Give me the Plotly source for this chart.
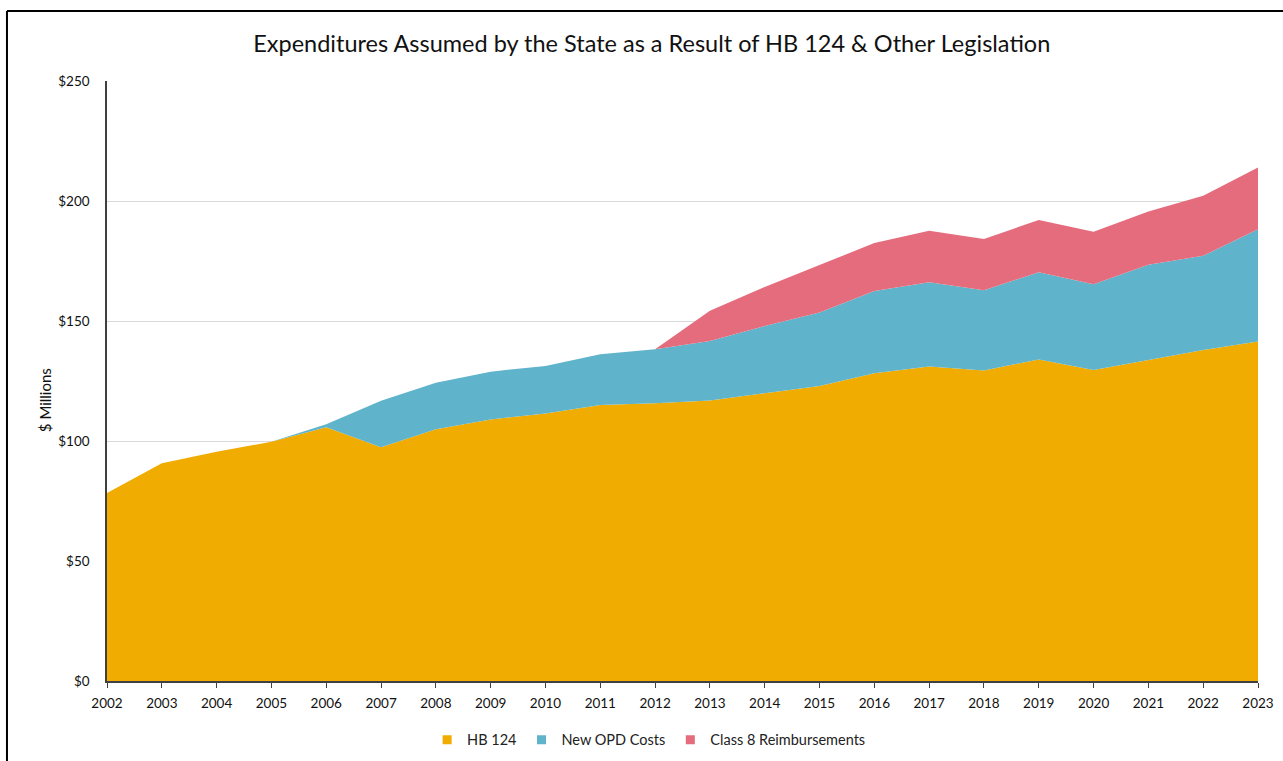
import plotly.graph_objects as go

years = list(range(2002, 2024))
hb124 = [78.3, 90.7, 95.5, 99.7, 105.7, 97.4, 104.9, 109.0, 111.5, 115.0, 115.7,
         116.9, 119.9, 122.9, 128.2, 131.0, 129.4, 134.0, 129.6, 133.8, 137.9, 141.5]
new_opd = [0, 0, 0, 0, 1.3, 19.4, 19.4, 19.9, 19.8, 21.1, 22.5,
           24.8, 28.0, 30.6, 34.3, 35.1, 33.4, 36.3, 35.7, 39.6, 39.3, 46.7]
class8 = [0, 0, 0, 0, 0, 0, 0, 0, 0, 0, 0,
          12.6, 16.3, 19.8, 20.0, 21.5, 21.4, 21.8, 21.9, 22.2, 25.0, 25.8]
y_ticks = [0, 50, 100, 150, 200, 250]
y_labels = ["$0", "$50", "$100", "$150", "$200", "$250"]

series = [("HB 124", hb124, "#F0AC00"),
          ("New OPD Costs", new_opd, "#5FB3CB"),
          ("Class 8 Reimbursements", class8, "#E46C7D")]

fig = go.Figure()
for name, vals, col in series:
    fig.add_trace(go.Scatter(
        x=years, y=vals, name=name, stackgroup="one", mode="none",
        fillcolor=col, line=dict(width=0), hoverinfo="x+y+name", showlegend=False))
# legend entries with small square swatches
for name, vals, col in series:
    fig.add_trace(go.Scatter(
        x=[None], y=[None], name=name, mode="markers",
        marker=dict(symbol="square", size=9, color=col), showlegend=True))

font_family = "Lato, 'Open Sans', sans-serif"
fig.update_layout(
    width=1283, height=761,
    margin=dict(l=107, r=25, t=81, b=80, autoexpand=False),
    paper_bgcolor="white", plot_bgcolor="white",
    font=dict(family=font_family, size=13, color="#222"),
    title=dict(text="Expenditures Assumed by the State as a Result of HB 124 & Other Legislation",
               x=0.508, xanchor="center", y=0.943, yanchor="middle",
               font=dict(size=23.5, color="#111", family=font_family)),
    showlegend=True,
    legend=dict(orientation="h", x=0.471, xanchor="center", y=-0.098, yanchor="middle",
                font=dict(size=14.5, color="#222"), itemwidth=30, traceorder="normal",
                tracegroupgap=0),
)
fig.update_xaxes(
    range=[2002, 2023], tickmode="array", tickvals=years, ticktext=[str(y) for y in years],
    showgrid=False, showline=True, linecolor="#404040", linewidth=1.5,
    ticks="outside", ticklen=5, tickcolor="#404040", tickfont=dict(size=13.5, color="#111"),
    ticklabelstandoff=4, zeroline=False, fixedrange=True)
fig.update_yaxes(
    range=[0, 250], tickmode="array", tickvals=y_ticks, ticktext=y_labels,
    showgrid=True, gridcolor="#D9D9D9", gridwidth=1,
    showline=True, linecolor="#404040", linewidth=1.5, ticks="", ticklabelstandoff=13,
    tickfont=dict(size=13.5, color="#111"), zeroline=False, fixedrange=True)

fig.add_annotation(text="$ Millions", xref="paper", yref="paper",
                   x=-0.0539, y=0.468, xanchor="center", yanchor="middle",
                   textangle=-90, showarrow=False, font=dict(size=15, color="#111"))

# outer frame (top and left edges visible in the reference)
fig.add_shape(type="line", xref="paper", yref="paper",
              x0=-0.0869, x1=1.05, y0=1.1167, y1=1.1167,
              line=dict(color="black", width=2), layer="below")
fig.add_shape(type="line", xref="paper", yref="paper",
              x0=-0.0869, x1=-0.0869, y0=-0.2, y1=1.1167,
              line=dict(color="black", width=2), layer="below")

fig.write_html("out.html", config={"displayModeBar": False},
               post_script="document.body.style.margin='0';document.body.style.overflow='hidden';")
